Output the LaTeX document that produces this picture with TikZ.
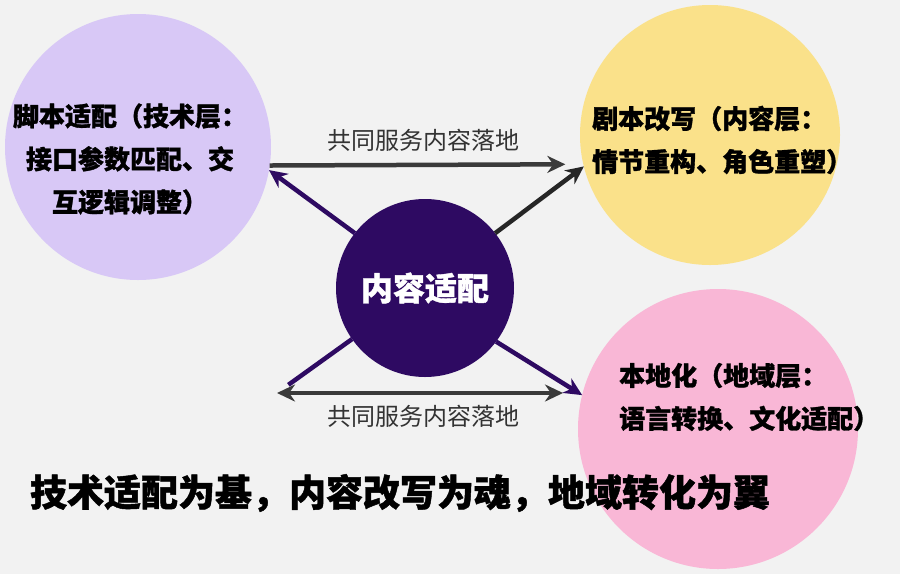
\documentclass[tikz,border=0pt]{standalone}
\usepackage{fontspec}
\setmainfont{Noto Sans CJK SC}[BoldFeatures={FakeBold=1.2}]
\usepackage{xcolor}
\definecolor{bggray}{HTML}{F2F2F2}
\definecolor{lavender}{HTML}{D8C8F6}
\definecolor{butter}{HTML}{FAE18A}
\definecolor{blush}{HTML}{F9B7D6}
\definecolor{grape}{HTML}{2E0A62}
\definecolor{ink}{HTML}{3A3A3A}
\usetikzlibrary{positioning,arrows.meta}
\tikzset{
  bubble/.style ={circle, inner sep=0pt, outer sep=0pt},
  core/.style   ={bubble, fill=grape, minimum size=178pt, text=white,
                  font=\fontsize{32}{36}\selectfont\bfseries},
  btext/.style  ={inner sep=0pt, font=\fontsize{26}{43}\selectfont\bfseries},
  lbl/.style    ={inner sep=0pt, font=\fontsize{24}{26}\selectfont, text=black!80},
  arr/.style    ={-{Stealth[length=18pt,width=17pt]}, line width=4.5pt},
  darr/.style   ={{Stealth[length=18pt,width=17pt]}-{Stealth[length=18pt,width=17pt]},
                  line width=4.5pt},
}

\begin{document}
\begin{tikzpicture}[x=1pt, y=-1pt]
  \fill[bggray] (0,0) rectangle (900,574);
  % three layers round the core
  \node[bubble, fill=lavender, minimum size=266pt] (tech) at (138,147) {};
  \node[bubble, fill=butter, minimum size=260pt] (script) at (710,135) {};
  \node[bubble, fill=blush, minimum size=280pt] (local) at (718,429) {};
  \node[core] (adapt) at (425,288) {内容适配};
  \node[btext, align=center] (techtxt) at (130,159) {脚本适配（技术层：\\接口参数匹配、交\\互逻辑调整）};
  \node[btext, align=left, anchor=west] (scripttxt) at (592,140) {剧本改写（内容层：\\情节重构、角色重塑）};
  \node[btext, align=left, anchor=west] (localtxt) at (619,397) {本地化（地域层：\\语言转换、文化适配）};
  \coordinate (botl) at (277,393);
  \coordinate (botr) at (563,393);
  % connectors
  \draw[arr, ink, shorten >=18pt] (tech.-8) -- (script.193);
  \node[lbl] (toplbl) at (423,140) {共同服务内容落地};
  \draw[line width=4.5pt, grape, shorten >=14pt] (adapt.215) -- (botl);
  \draw[darr, ink] (botl) -- (botr);
  \node[lbl] (botlbl) at (423,416) {共同服务内容落地};
  \draw[arr, grape] (adapt.142) -- (tech.-10);
  \draw[arr, black!85] (adapt.38) -- (script.194);
  \draw[arr, grape] (adapt.323) -- (local.166);
  \node[font=\fontsize{37}{40}\selectfont\bfseries, inner sep=0pt] (motto) at (400,493)
    {技术适配为基，内容改写为魂，地域转化为翼};
\end{tikzpicture}
\end{document}
